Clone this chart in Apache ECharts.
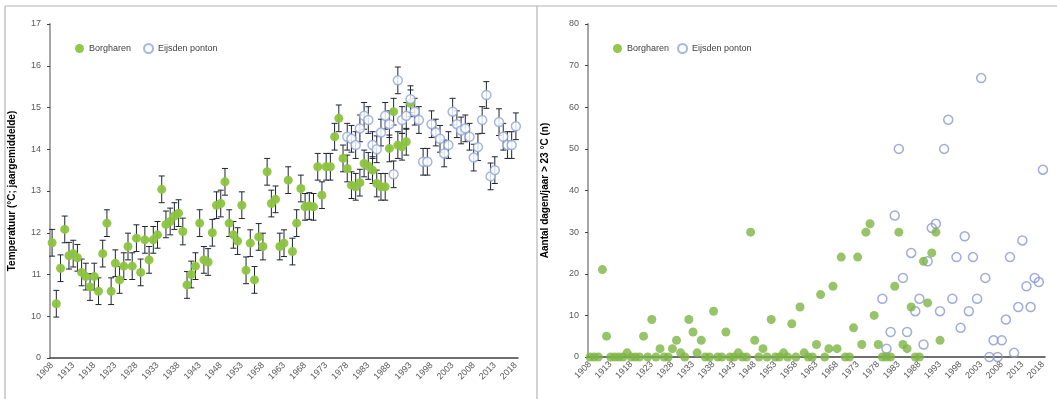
<!DOCTYPE html>
<html>
<head>
<meta charset="utf-8">
<script src="https://cdn.jsdelivr.net/npm/echarts@6/dist/echarts.min.js"></script>
<style>
  html, body { margin: 0; padding: 0; background: #fff; }
  #chart { width: 1057px; height: 399px; }
</style>
</head>
<body>
<div id="chart"></div>
<script>
// Year categories shared by both panels
const firstYear = 1908;
const lastYear = 2018;

// Annual mean water temperature (°C)
const borgharenTempStart = 1908;
const borgharenTemp = [
  11.76, 10.30, 11.15, 12.08, 11.45, 11.50, 11.40, 11.05, 10.95, 10.70,
  10.95, 10.60, 11.50, 12.23, 10.60, 11.27, 10.87, 11.20, 11.67, 11.20,
  11.87, 11.05, 11.83, 11.35, 11.83, 11.95, 13.04, 12.20, 12.27, 12.40,
  12.47, 12.03, 10.75, 11.00, 11.20, 12.23, 11.35, 11.30, 12.00, 12.66,
  12.70, 13.22, 12.23, 11.95, 11.80, 12.66, 11.10, 11.75, 10.87, 11.90,
  11.67, 13.46, 12.70, 12.80, 11.67, 11.75, 13.26, 11.55, 12.23, 13.06,
  12.62, 12.64, 12.62, 13.58, 12.90, 13.58, 13.58, 14.30, 14.74, 13.78,
  13.54, 13.14, 13.10, 13.20, 13.66, 13.60, 13.50, 13.18, 13.10, 13.10,
  14.02, 14.90, 14.10, 14.06, 14.18, 15.10
];
const eijsdenTempStart = 1978;
const eijsdenTemp = [
  14.30, 14.25, 14.10, 14.50, 14.80, 14.70, 14.10, 14.00, 14.40, 14.80,
  14.60, 13.40, 15.65, 14.70, 14.80, 15.20, 14.90, 14.70, 13.70, 13.70,
  14.60, 14.40, 14.25, 13.90, 14.10, 14.90, 14.60, 14.45, 14.50, 14.30,
  13.80, 14.05, 14.70, 15.30, 13.35, 13.50, 14.65, 14.30, 14.10, 14.10,
  14.55
];
// Half-length of the uncertainty bars (°C)
const tempError = 0.32;

// Number of days per year with water temperature above 23 °C
const borgharenDaysStart = 1908;
const borgharenDays = [
  0, 0, 0, 21, 5, 0, 0, 0, 0, 1,
  0, 0, 0, 5, 0, 9, 0, 2, 0, 0,
  2, 4, 1, 0, 9, 6, 1, 4, 0, 0,
  11, 0, 0, 6, 0, 0, 1, 0, 0, 30,
  4, 0, 2, 0, 9, 0, 0, 1, 0, 8,
  0, 12, 1, 0, 0, 3, 15, 0, 2, 17,
  2, 24, 0, 0, 7, 24, 3, 30, 32, 10,
  3, 0, 0, 0, 17, 30, 3, 2, 12, 0,
  0, 23, 13, 25, 30, 4
];
const eijsdenDaysStart = 1979;
const eijsdenDays = [
  14, 2, 6, 34, 50, 19, 6, 25, 11, 14,
  3, 23, 31, 32, 11, 50, 57, 14, 24, 7,
  29, 11, 24, 14, 67, 19, 0, 4, 0, 4,
  9, 24, 1, 12, 28, 17, 12, 19, 18, 45
];

// Tick labels of the temperature axis (lowest tick is the axis origin)
const tempTickLabels = ['0', '10', '11', '12', '13', '14', '15', '16', '17'];
const tempAxisMin = 9;
const tempAxisMax = 17;

const seriesNames = ['Borgharen', 'Eijsden ponton'];
const tempAxisTitle = 'Temperatuur (°C; jaargemiddelde)';
const daysAxisTitle = 'Aantal dagen/jaar > 23 °C (n)';

const years = [];
for (let y = firstYear; y <= lastYear; y++) years.push(String(y));

function pairs(start, values) {
  return values.map((v, i) => [String(start + i), v]);
}

const green = '#8cc43f';
const greenDark = '#7db443';
const hollow = '#8fa5d8';
const axisGrey = '#a6a6a6';
const labelGrey = '#595959';
const font = 'Liberation Sans, Arial, sans-serif';

function errorBarRenderer(err) {
  return function (params, api) {
    const x = api.value(0);
    const v = api.value(1);
    const top = api.coord([x, v + err]);
    const bot = api.coord([x, v - err]);
    const hw = 3;
    const style = { stroke: '#1e2433', lineWidth: 1 };
    return {
      type: 'group',
      children: [
        { type: 'line', shape: { x1: top[0], y1: top[1], x2: bot[0], y2: bot[1] }, style },
        { type: 'line', shape: { x1: top[0] - hw, y1: top[1], x2: top[0] + hw, y2: top[1] }, style },
        { type: 'line', shape: { x1: bot[0] - hw, y1: bot[1], x2: bot[0] + hw, y2: bot[1] }, style }
      ]
    };
  };
}

function xAxis(gridIndex) {
  return {
    type: 'category',
    gridIndex,
    data: years,
    boundaryGap: true,
    axisLine: { lineStyle: { color: '#404040', width: 1.5 } },
    axisTick: { interval: 0, length: 4, lineStyle: { color: '#404040' } },
    axisLabel: {
      interval: 4, rotate: 45, fontSize: 9, color: labelGrey,
      fontFamily: font, margin: 6
    },
    splitLine: { show: false }
  };
}

const chart = echarts.init(document.getElementById('chart'), null, { renderer: 'canvas' });

chart.setOption({
  animation: false,
  backgroundColor: '#ffffff',
  textStyle: { fontFamily: font },
  graphic: [
    { type: 'line', shape: { x1: 5, y1: 6, x2: 1057, y2: 6 }, style: { stroke: '#b4b4b4', lineWidth: 1.2 } },
    { type: 'line', shape: { x1: 5, y1: 6, x2: 5, y2: 399 }, style: { stroke: '#b4b4b4', lineWidth: 1.2 } },
    { type: 'line', shape: { x1: 537, y1: 6, x2: 537, y2: 399 }, style: { stroke: '#b4b4b4', lineWidth: 1.2 } }
  ],
  grid: [
    { left: 50, right: 539, top: 24, bottom: 41 },
    { left: 588, right: 12, top: 24, bottom: 42 }
  ],
  legend: [
    {
      data: seriesNames.slice(0, 1).concat(seriesNames.slice(1, 2)),
      left: 70, top: 38, itemWidth: 9, itemHeight: 9, itemGap: 12,
      icon: 'circle',
      textStyle: { fontSize: 9, color: '#404040', fontFamily: font }
    }
  ],
  xAxis: [xAxis(0), xAxis(1)],
  yAxis: [
    {
      type: 'value', gridIndex: 0,
      min: tempAxisMin, max: tempAxisMax, interval: 1,
      name: tempAxisTitle, nameLocation: 'middle', nameGap: 33,
      nameTextStyle: { fontSize: 10, fontWeight: 'bold', color: '#000', fontFamily: font },
      axisLine: { show: true, lineStyle: { color: axisGrey, width: 2 } },
      axisTick: { show: true, length: 3, lineStyle: { color: '#404040' } },
      axisLabel: {
        fontSize: 9, color: labelGrey, margin: 9, fontFamily: font,
        formatter: v => tempTickLabels[v - tempAxisMin]
      },
      splitLine: { show: false }
    },
    {
      type: 'value', gridIndex: 1,
      min: 0, max: 80, interval: 10,
      name: daysAxisTitle, nameLocation: 'middle', nameGap: 38,
      nameTextStyle: { fontSize: 10, fontWeight: 'bold', color: '#000', fontFamily: font },
      axisLine: { show: true, lineStyle: { color: axisGrey, width: 2 } },
      axisTick: { show: true, length: 3, lineStyle: { color: '#404040' } },
      axisLabel: { fontSize: 9, color: labelGrey, margin: 9, fontFamily: font },
      splitLine: { show: false }
    }
  ],
  series: [
    {
      name: 'err-borgharen', type: 'custom', xAxisIndex: 0, yAxisIndex: 0,
      renderItem: errorBarRenderer(tempError),
      data: pairs(borgharenTempStart, borgharenTemp), z: 1, silent: true
    },
    {
      name: 'err-eijsden', type: 'custom', xAxisIndex: 0, yAxisIndex: 0,
      renderItem: errorBarRenderer(tempError),
      data: pairs(eijsdenTempStart, eijsdenTemp), z: 1, silent: true
    },
    {
      name: seriesNames[0], type: 'scatter', xAxisIndex: 0, yAxisIndex: 0,
      symbol: 'circle', symbolSize: 9, z: 3,
      itemStyle: { color: green, opacity: 0.95 },
      data: pairs(borgharenTempStart, borgharenTemp)
    },
    {
      name: seriesNames[1], type: 'scatter', xAxisIndex: 0, yAxisIndex: 0,
      symbol: 'circle', symbolSize: 9, z: 3,
      itemStyle: { color: '#ffffff', borderColor: hollow, borderWidth: 1.5 },
      data: pairs(eijsdenTempStart, eijsdenTemp)
    },
    {
      name: seriesNames[0], type: 'scatter', xAxisIndex: 1, yAxisIndex: 1,
      symbol: 'circle', symbolSize: 9, z: 3,
      itemStyle: { color: greenDark },
      data: pairs(borgharenDaysStart, borgharenDays)
    },
    {
      name: seriesNames[1], type: 'scatter', xAxisIndex: 1, yAxisIndex: 1,
      symbol: 'circle', symbolSize: 9, z: 2,
      itemStyle: { color: 'rgba(255,255,255,0)', borderColor: '#8a97d0', borderWidth: 1.5 },
      data: pairs(eijsdenDaysStart, eijsdenDays)
    }
  ]
});

// Second legend for the right-hand panel
chart.setOption({
  legend: [
    chart.getOption().legend[0],
    {
      data: seriesNames.slice(),
      left: 608, top: 38, itemWidth: 9, itemHeight: 9, itemGap: 8,
      icon: 'circle',
      textStyle: { fontSize: 9, color: '#404040', fontFamily: font }
    }
  ]
});
</script>
</body>
</html>
